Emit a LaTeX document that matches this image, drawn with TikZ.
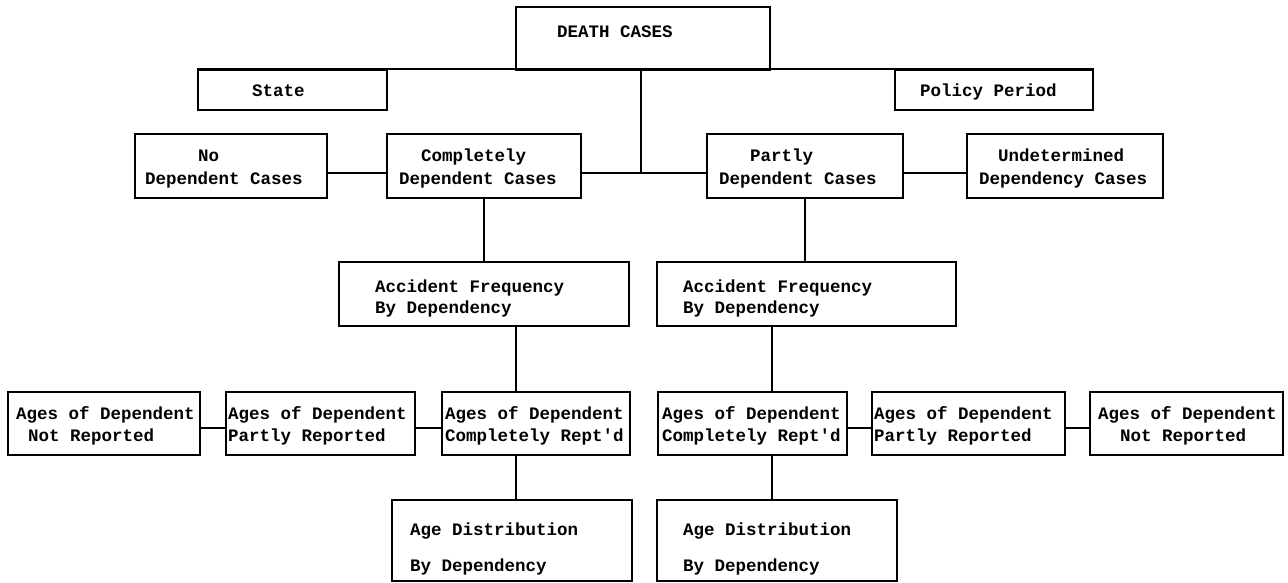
\documentclass[tikz,border=0pt]{standalone}
\usepackage{fontspec}
\setmonofont{Liberation Mono}
\newcommand\putline[4]{\node[txt] (#1) at (#2,#3) {#4};}
\begin{document}
\begin{tikzpicture}[x=1pt,y=-1pt,
  box/.style={draw, line width=1.7pt, inner sep=0pt},
  link/.style={draw, line width=1.5pt},
  txt/.style={font=\ttfamily\bfseries\fontsize{17.5}{21}\selectfont, inner sep=0pt, anchor=base west}]
\useasboundingbox (0,0) rectangle (1288,583);
% boxes
\node[box, minimum width=254pt, minimum height=63pt] (death) at (643,38.5) {};
\node[box, minimum width=189pt, minimum height=40pt] (state) at (292.5,90) {};
\node[box, minimum width=198pt, minimum height=40pt] (policy) at (994,90) {};
\node[box, minimum width=192pt, minimum height=64pt] (nodep) at (231,166) {};
\node[box, minimum width=194pt, minimum height=64pt] (compl) at (484,166) {};
\node[box, minimum width=196pt, minimum height=64pt] (partly) at (805,166) {};
\node[box, minimum width=196pt, minimum height=64pt] (undet) at (1065,166) {};
\node[box, minimum width=290pt, minimum height=64pt] (accL) at (484,294) {};
\node[box, minimum width=299pt, minimum height=64pt] (accR) at (806.5,294) {};
\node[box, minimum width=192pt, minimum height=63pt] (a1) at (104,423.5) {};
\node[box, minimum width=189pt, minimum height=63pt] (a2) at (320.5,423.5) {};
\node[box, minimum width=188pt, minimum height=63pt] (a3) at (536,423.5) {};
\node[box, minimum width=189pt, minimum height=63pt] (b1) at (752.5,423.5) {};
\node[box, minimum width=193pt, minimum height=63pt] (b2) at (968.5,423.5) {};
\node[box, minimum width=193pt, minimum height=63pt] (b3) at (1186.5,423.5) {};
\node[box, minimum width=240pt, minimum height=81pt] (dL) at (512,540.5) {};
\node[box, minimum width=240pt, minimum height=81pt] (dR) at (777,540.5) {};
% helper coordinates for vertical drops
\coordinate (vL) at (516,0);
\coordinate (vR) at (772,0);
\coordinate (vC) at (641,0);
\coordinate (jr) at ([yshift=-7pt]compl.east);
% connectors
\draw[link] (state.north west) -- (policy.north east);
\draw[link] (vC |- death.south) -- (vC |- jr);
\draw[link] ([yshift=-7pt]nodep.east) -- ([yshift=-7pt]compl.west);
\draw[link] ([yshift=-7pt]compl.east) -- ([yshift=-7pt]partly.west);
\draw[link] ([yshift=-7pt]partly.east) -- ([yshift=-7pt]undet.west);
\draw[link] (compl.south) -- (compl.south |- accL.north);
\draw[link] (partly.south) -- (partly.south |- accR.north);
\draw[link] (vL |- accL.south) -- (vL |- a3.north);
\draw[link] (vR |- accR.south) -- (vR |- b1.north);
\draw[link] ([yshift=-4.5pt]a1.east) -- ([yshift=-4.5pt]a2.west);
\draw[link] ([yshift=-4.5pt]a2.east) -- ([yshift=-4.5pt]a3.west);
\draw[link] ([yshift=-4.5pt]b1.east) -- ([yshift=-4.5pt]b2.west);
\draw[link] ([yshift=-4.5pt]b2.east) -- ([yshift=-4.5pt]b3.west);
\draw[link] (vL |- a3.south) -- (vL |- dL.north);
\draw[link] (vR |- b1.south) -- (vR |- dR.north);
% texts
\putline{t1}{557}{38}{DEATH CASES}
\putline{t2}{252}{97}{State}
\putline{t3}{920}{97}{Policy Period}
\putline{t4a}{198}{162}{No}
\putline{t4b}{145}{184}{Dependent Cases}
\putline{t5a}{421}{162}{Completely}
\putline{t5b}{399}{184}{Dependent Cases}
\putline{t6a}{750}{162}{Partly}
\putline{t6b}{719}{184}{Dependent Cases}
\putline{t7a}{998}{162}{Undetermined}
\putline{t7b}{979}{184}{Dependency Cases}
\putline{t8a}{375}{292}{Accident Frequency}
\putline{t8b}{375}{313}{By Dependency}
\putline{t9a}{683}{292}{Accident Frequency}
\putline{t9b}{683}{313}{By Dependency}
\putline{ta1}{16}{419}{Ages of Dependent}
\putline{ta2}{28}{441}{Not Reported}
\putline{tb1}{228}{419}{Ages of Dependent}
\putline{tb2}{228}{441}{Partly Reported}
\putline{tc1}{445}{419}{Ages of Dependent}
\putline{tc2}{445}{441}{Completely Rept'd}
\putline{td1}{662}{419}{Ages of Dependent}
\putline{td2}{662}{441}{Completely Rept'd}
\putline{te1}{874}{419}{Ages of Dependent}
\putline{te2}{874}{441}{Partly Reported}
\putline{tf1}{1098}{419}{Ages of Dependent}
\putline{tf2}{1120}{441}{Not Reported}
\putline{tg1}{410}{535}{Age Distribution}
\putline{tg2}{410}{571}{By Dependency}
\putline{th1}{683}{535}{Age Distribution}
\putline{th2}{683}{571}{By Dependency}
\end{tikzpicture}
\end{document}
